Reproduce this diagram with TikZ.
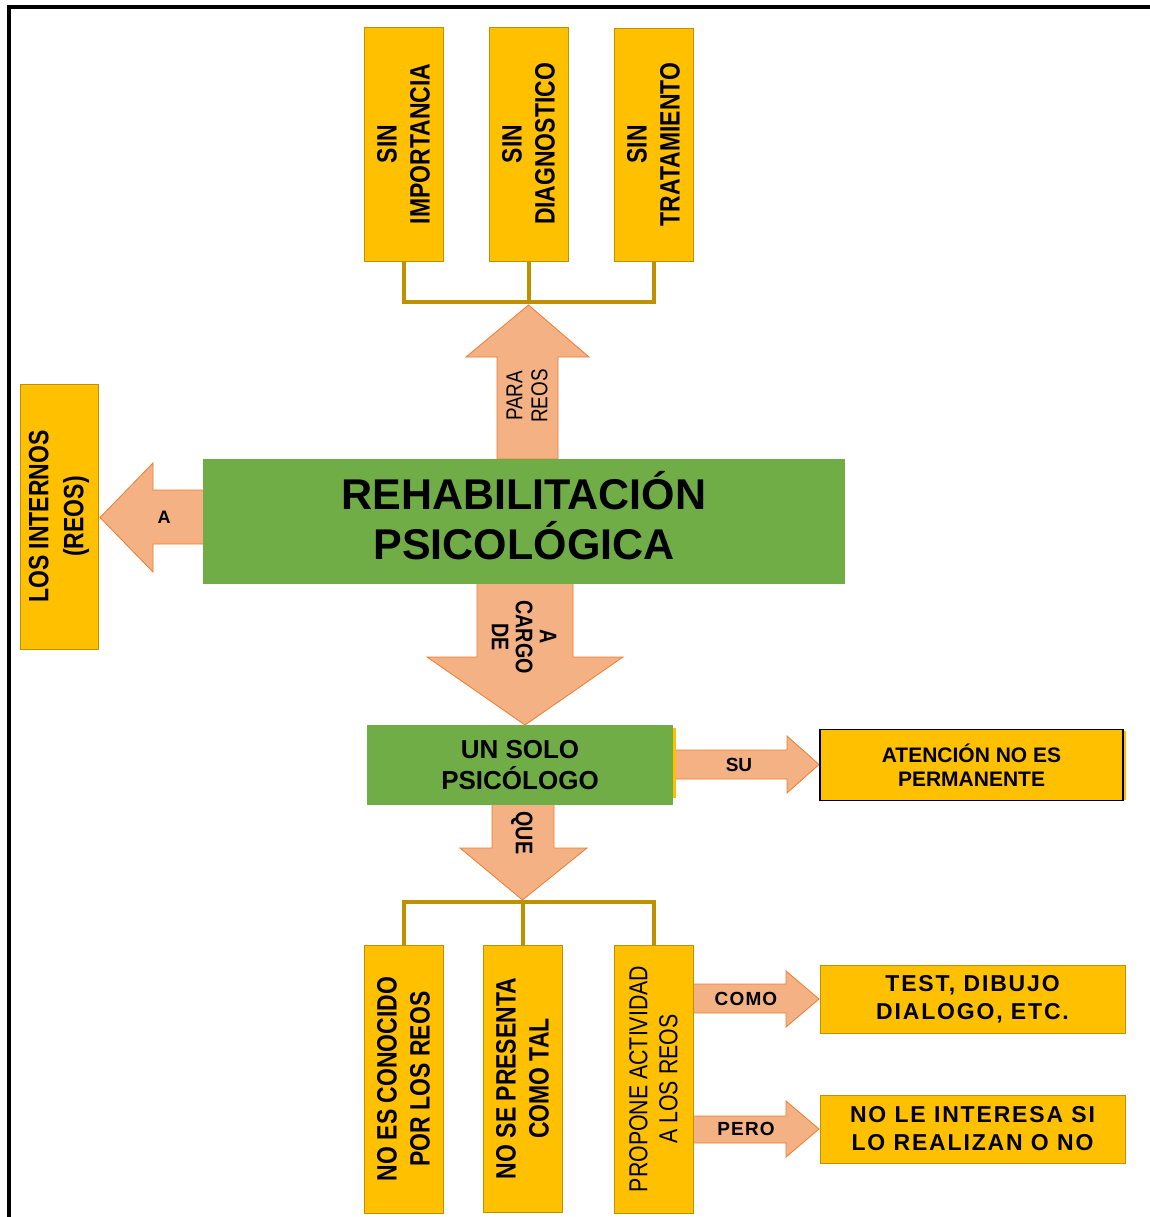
\documentclass[tikz,border=0pt]{standalone}
\usepackage{fontspec}
\setmainfont{Liberation Sans}
\newfontfamily\nfont{Liberation Sans}[FakeStretch=0.82]
\newfontfamily\spfont{Liberation Sans}[LetterSpace=8]
\newfontfamily\lbfont{Liberation Sans}[LetterSpace=6]
\definecolor{gold}{HTML}{FFC000}
\definecolor{boxedge}{HTML}{BF9000}
\definecolor{greenc}{HTML}{70AD47}
\definecolor{arrowfill}{HTML}{F4B183}
\definecolor{arrowedge}{HTML}{ED7D31}
\definecolor{bracketc}{HTML}{BF9000}
\begin{document}
\begin{tikzpicture}[x=1pt,y=-1pt,
  ybox/.style={draw=boxedge, fill=gold, line width=0.8pt, inner sep=0pt, align=center},
  gbox/.style={fill=greenc, inner sep=0pt, align=center},
  barrow/.style={fill=arrowfill, draw=arrowedge, line width=0.8pt, line join=miter},
  bracket/.style={draw=bracketc, line width=4pt},
  vtext/.style={font=\nfont\bfseries\fontsize{28}{33}\selectfont},
  lbl/.style={inner sep=0pt, align=center}
]
\useasboundingbox (0,0) rectangle (1149,1217);
\fill[white] (0,0) rectangle (1149,1217);
% frame
\draw[line width=4pt, line cap=rect] (9,1220) -- (9,7) -- (1152,7);

% block arrows
\draw[barrow] (497,459) -- (497,357) -- (466,357) -- (528.5,305) -- (589,357) -- (558,357) -- (558,459) -- cycle;
\draw[barrow] (204,490) -- (153,490) -- (153,463) -- (100,517.5) -- (153,572) -- (153,544) -- (204,544) -- cycle;
\draw[barrow] (477,583) -- (477,657) -- (427,657) -- (525,725) -- (623,657) -- (573,657) -- (573,583) -- cycle;
\draw[barrow] (675,750) -- (787,750) -- (787,736) -- (819,764.5) -- (787,793) -- (787,779) -- (675,779) -- cycle;
\draw[barrow] (492,804) -- (492,848) -- (460,848) -- (522.5,900) -- (587,848) -- (554,848) -- (554,804) -- cycle;
\draw[barrow] (692,984) -- (786,984) -- (786,971) -- (819,999) -- (786,1027) -- (786,1013) -- (692,1013) -- cycle;
\draw[barrow] (692,1116) -- (786,1116) -- (786,1101) -- (819,1129) -- (786,1157) -- (786,1143) -- (692,1143) -- cycle;

% top boxes
\node[ybox, rotate=90, minimum width=234pt, minimum height=79pt, vtext] (imp) at (403.5,144) {SIN\\IMPORTANCIA};
\node[ybox, rotate=90, minimum width=234pt, minimum height=79pt, vtext] (diag) at (528.5,144) {SIN\\DIAGNOSTICO};
\node[ybox, rotate=90, minimum width=233pt, minimum height=79pt, vtext] (tra) at (653.5,144.5) {SIN\\TRATAMIENTO};
\coordinate (tj) at (528.5,302);
\draw[bracket] (imp.west) |- (tj) -| (tra.west);
\draw[bracket] (diag.west) -- (tj);

% main box
\fill[greenc] (203,459) rectangle (845,584);
\node[lbl, font=\bfseries\fontsize{43}{50}\selectfont] (main) at (524,516) {REHABILITACIÓN\\PSICOLÓGICA};

% left box
\node[ybox, rotate=90, minimum width=265pt, minimum height=78pt, font=\nfont\bfseries\fontsize{28}{35}\selectfont] (int) at (59,516.5) {LOS INTERNOS\\(REOS)};

% psychologist box
\fill[gold] (670,728) rectangle (676,798);
\node[gbox, minimum width=306pt, minimum height=80pt, font=\bfseries\fontsize{26}{31}\selectfont] (psi) at (520,765) {UN SOLO\\PSICÓLOGO};

% right boxes
\fill[gold] (1120,731) rectangle (1126,800);
\node[ybox, draw=black, line width=1.5pt, minimum width=303pt, minimum height=71pt, font=\bfseries\fontsize{21}{24}\selectfont] (aten) at (971.5,765) {ATENCIÓN NO ES\\PERMANENTE};
\node[ybox, minimum width=305pt, minimum height=68pt, font=\spfont\bfseries\fontsize{23}{28}\selectfont] (test) at (972.5,999) {TEST, DIBUJO\\DIALOGO, ETC.};
\node[ybox, minimum width=305pt, minimum height=68pt, font=\spfont\bfseries\fontsize{23}{28}\selectfont] (inter) at (972.5,1129) {NO LE INTERESA SI\\LO REALIZAN O NO};

% bottom boxes
\node[ybox, rotate=90, minimum width=268pt, minimum height=79pt, vtext] (conoc) at (403.5,1079) {NO ES CONOCIDO\\POR LOS REOS};
\node[ybox, rotate=90, minimum width=267pt, minimum height=79pt, vtext] (pres) at (522.5,1078.5) {NO SE PRESENTA\\COMO TAL};
\node[ybox, rotate=90, minimum width=268pt, minimum height=79pt, font=\nfont\fontsize{26}{30}\selectfont] (prop) at (653.5,1079) {PROPONE ACTIVIDAD\\A LOS REOS};
\coordinate (bj) at (522.5,902);
\draw[bracket] (conoc.east) |- (bj) -| (prop.east);
\draw[bracket] (pres.east) -- (bj);

% arrow labels
\node[lbl, rotate=90, font=\nfont\fontsize{23}{25}\selectfont] (lpara) at (527,396) {PARA\\REOS};
\node[lbl, font=\bfseries\fontsize{18}{20}\selectfont] (la) at (164,517) {A};
\node[lbl, rotate=-90, font=\nfont\bfseries\fontsize{24}{24}\selectfont] (lcargo) at (524,637) {A\\CARGO\\DE};
\node[lbl, rotate=-90, font=\nfont\bfseries\fontsize{24}{24}\selectfont] (lque) at (522,833) {QUE};
\node[lbl, font=\bfseries\fontsize{19}{20}\selectfont] (lsu) at (739,765) {SU};
\node[lbl, font=\lbfont\bfseries\fontsize{19}{20}\selectfont] (lcomo) at (746,999) {COMO};
\node[lbl, font=\lbfont\bfseries\fontsize{19}{20}\selectfont] (lpero) at (746,1129) {PERO};
\end{tikzpicture}
\end{document}
